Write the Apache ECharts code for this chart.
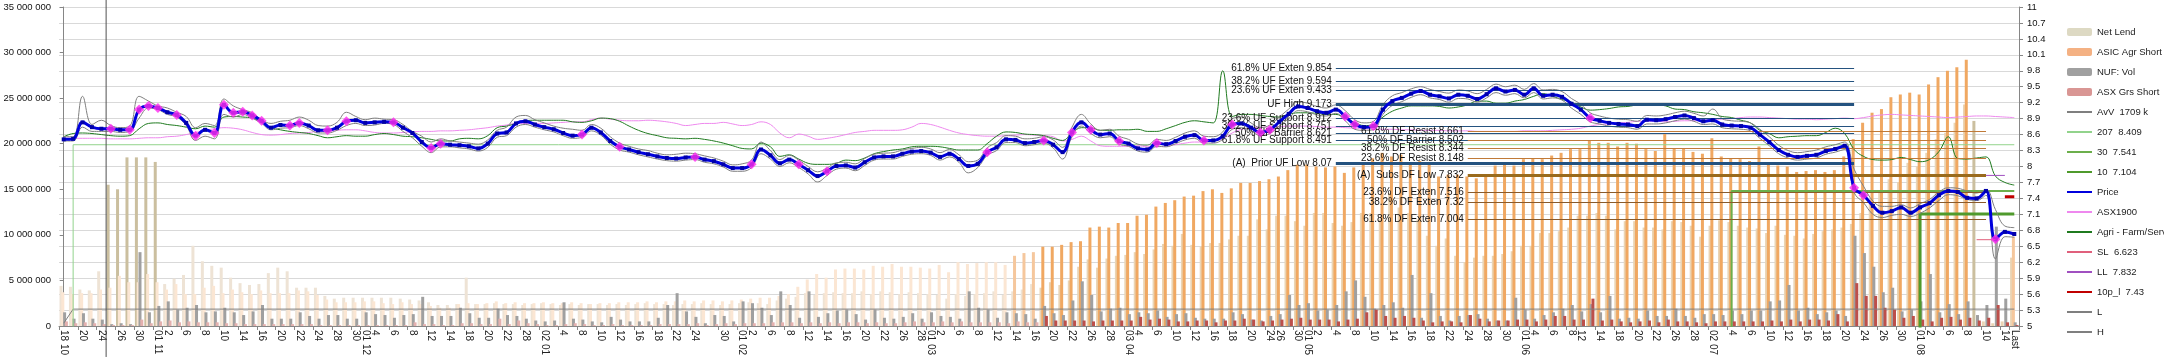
<!DOCTYPE html>
<html><head><meta charset="utf-8">
<script src="https://cdn.jsdelivr.net/npm/echarts@6/dist/echarts.min.js"></script>
<style>html,body{margin:0;padding:0;background:#fff}#c{width:2164px;height:358px}</style>
</head><body><div id="c"></div>
<script>
const FF = "'Liberation Sans',Arial,sans-serif";
const N = 208;
const labelPos = [0,2,4,6,8,10,11,13,15,17,19,21,23,25,27,29,31,32,33,35,37,39,41,43,45,47,49,51,53,55,57,59,61,63,65,67,70,72,73,75,77,79,81,83,85,87,89,91,92,93,95,97,99,101,103,105,107,109,111,113,114,116,118,120,122,124,126,128,129,131,132,133,135,137,139,141,143,145,147,149,151,153,155,156,158,160,161,163,165,167,169,171,173,175,177,179,181,183,185,187,189,191,193,195,197,198,200,202,204,206,207];
const labelText = ['18 10','20','24','26','30','01 11','2','6','8','10','14','16','20','22','24','28','30','01 12','4','6','8','12','14','18','20','22','28','02 01','4','8','10','12','16','18','22','24','30','01 02','2','6','8','12','14','16','20','22','26','28','01 03','2','6','8','12','14','16','20','22','26','28','03 04','4','6','10','12','16','18','20','24','26','30','01 05','2','4','8','10','14','16','18','22','24','28','30','01 06','4','6','8','12','14','18','20','22','26','28','02 07','4','6','10','12','16','18','20','24','26','30','01 08','2','6','8','10','14','Last'];

// Right axis series (price units)
const price = [8.51,8.52,8.83,8.74,8.71,8.71,8.69,8.69,9.07,9.14,9.10,9.02,8.97,8.82,8.58,8.69,8.63,9.16,9.01,9.03,8.96,8.86,8.73,8.78,8.77,8.82,8.77,8.68,8.68,8.73,8.85,8.87,8.82,8.83,8.84,8.83,8.73,8.63,8.46,8.35,8.43,8.41,
8.40,8.38,8.34,8.43,8.62,8.64,8.81,8.85,8.79,8.74,8.70,8.63,8.58,8.60,8.73,8.64,8.48,8.37,8.32,8.27,8.23,8.19,8.16,8.15,8.17,8.18,8.13,8.10,8.04,7.97,7.97,8.04,8.32,8.21,8.06,8.13,8.04,7.93,7.82,7.91,8.01,8.02,
7.98,8.08,8.17,8.19,8.19,8.24,8.28,8.29,8.26,8.18,8.24,8.14,8.01,8.05,8.27,8.36,8.51,8.50,8.44,8.46,8.49,8.41,8.27,8.64,8.83,8.69,8.60,8.62,8.48,8.43,8.34,8.32,8.44,8.42,8.48,8.56,8.59,8.49,8.49,8.57,8.79,
8.81,8.73,8.64,8.69,8.84,8.99,9.13,9.10,9.04,9.01,9.07,8.94,8.79,8.74,8.76,9.07,9.23,9.29,9.37,9.42,9.35,9.32,9.28,9.35,9.33,9.27,9.36,9.47,9.41,9.44,9.35,9.47,9.33,9.35,9.31,9.18,9.07,8.91,8.86,8.82,8.80,8.79,
8.76,8.88,8.87,8.89,8.93,8.96,8.91,8.85,8.87,8.79,8.77,8.76,8.73,8.60,8.46,8.31,8.22,8.18,8.20,8.22,8.29,8.33,8.39,7.60,7.46,7.26,7.13,7.16,7.23,7.13,7.23,7.31,7.46,7.54,7.52,7.41,7.40,7.54,6.63,6.77,6.73];
const high = [8.56,8.56,9.32,8.79,8.87,8.77,8.73,8.76,9.32,9.23,9.14,9.10,9.02,8.94,8.73,8.81,8.77,9.27,9.14,9.07,9.01,8.88,8.81,8.85,8.87,8.93,8.87,8.77,8.76,8.83,9.02,8.94,8.88,8.91,8.89,8.88,8.79,8.66,8.57,8.46,8.52,8.48,
8.46,8.44,8.42,8.50,8.68,8.74,8.93,8.96,8.88,8.82,8.76,8.72,8.70,8.68,8.79,8.72,8.56,8.44,8.38,8.33,8.30,8.25,8.22,8.23,8.25,8.24,8.20,8.16,8.10,8.03,8.05,8.12,8.46,8.30,8.13,8.21,8.12,8.00,7.90,7.97,8.07,8.08,
8.05,8.15,8.23,8.25,8.26,8.31,8.34,8.36,8.33,8.26,8.32,8.22,8.09,8.12,8.35,8.45,8.58,8.57,8.52,8.53,8.56,8.50,8.36,8.74,8.98,8.80,8.68,8.70,8.57,8.51,8.42,8.40,8.51,8.49,8.55,8.63,8.67,8.57,8.56,8.65,8.90,
8.93,8.82,8.73,8.78,8.93,9.08,9.22,9.19,9.13,9.10,9.16,9.05,8.88,8.82,8.85,9.16,9.33,9.39,9.46,9.50,9.45,9.41,9.38,9.44,9.42,9.37,9.45,9.55,9.50,9.53,9.45,9.56,9.44,9.45,9.41,9.28,9.17,9.01,8.95,8.91,8.89,8.88,
8.85,8.96,8.95,8.97,9.01,9.04,9.00,8.95,9.08,8.90,8.86,8.85,8.82,8.70,8.56,8.40,8.30,8.26,8.28,8.31,8.37,8.41,8.46,7.95,7.63,7.35,7.25,7.25,7.28,7.22,7.30,7.38,7.52,7.60,7.59,7.54,7.50,7.57,7.19,6.88,6.85];
const low = [8.48,8.48,8.74,8.66,8.66,8.66,8.64,8.66,8.91,9.10,9.07,8.98,8.93,8.77,8.49,8.57,8.52,8.98,8.93,8.98,8.91,8.81,8.69,8.72,8.73,8.77,8.71,8.63,8.63,8.68,8.77,8.81,8.77,8.78,8.81,8.79,8.66,8.54,8.38,8.26,8.37,8.37,
8.35,8.33,8.29,8.36,8.55,8.58,8.74,8.79,8.74,8.69,8.65,8.58,8.53,8.55,8.67,8.59,8.42,8.31,8.27,8.22,8.18,8.14,8.11,8.10,8.12,8.13,8.08,8.05,7.99,7.91,7.91,7.98,8.24,8.14,8.00,8.07,7.98,7.86,7.71,7.83,7.95,7.97,
7.92,8.02,8.12,8.14,8.14,8.19,8.23,8.24,8.21,8.12,8.18,8.08,7.88,7.98,8.21,8.30,8.45,8.45,8.39,8.41,8.44,8.35,8.14,8.56,8.76,8.62,8.54,8.56,8.42,8.38,8.29,8.27,8.38,8.37,8.43,8.50,8.53,8.44,8.44,8.51,8.70,
8.73,8.67,8.58,8.62,8.76,8.90,9.05,9.03,8.97,8.95,9.00,8.86,8.70,8.68,8.69,8.98,9.15,9.22,9.30,9.35,9.29,9.26,9.21,9.28,9.27,9.21,9.29,9.39,9.34,9.37,9.29,9.39,9.27,9.29,9.25,9.10,8.98,8.84,8.80,8.76,8.74,8.73,
8.70,8.80,8.80,8.82,8.86,8.89,8.85,8.79,8.80,8.73,8.71,8.70,8.67,8.53,8.39,8.24,8.16,8.12,8.14,8.16,8.23,8.27,8.32,7.51,7.32,7.10,7.04,7.08,7.10,7.06,7.12,7.22,7.36,7.47,7.45,7.38,7.36,7.46,6.26,6.68,6.67];
const agri = [8.56,8.62,8.63,8.62,8.60,8.58,8.57,8.58,8.71,8.81,8.82,8.79,8.77,8.74,8.71,8.76,8.74,8.93,8.94,8.93,8.91,8.83,8.73,8.69,8.66,8.64,8.62,8.58,8.54,8.56,8.58,8.57,8.57,8.60,8.62,8.60,8.57,8.56,8.54,8.51,8.48,8.48,
8.52,8.53,8.52,8.58,8.73,8.76,8.81,8.86,8.87,8.87,8.87,8.87,8.84,8.83,8.86,8.91,8.90,8.85,8.76,8.68,8.62,8.58,8.54,8.53,8.52,8.53,8.51,8.48,8.44,8.39,8.34,8.33,8.44,8.37,8.19,8.22,8.14,8.06,8.04,8.04,8.06,8.12,
8.11,8.16,8.24,8.28,8.31,8.33,8.37,8.38,8.38,8.37,8.34,8.31,8.31,8.31,8.43,8.57,8.65,8.64,8.61,8.60,8.58,8.53,8.49,8.63,8.73,8.73,8.68,8.68,8.69,8.69,8.70,8.66,8.66,8.71,8.77,8.83,8.86,8.84,8.82,9.80,8.94,
8.98,8.98,8.96,8.94,8.93,8.98,9.01,9.01,9.00,8.98,8.98,8.91,8.83,8.77,8.79,8.93,9.04,9.10,9.14,9.14,9.14,9.13,9.10,9.12,9.16,9.23,9.23,9.19,9.19,9.23,9.26,9.32,9.37,9.32,9.26,9.21,9.12,9.06,9.07,9.09,9.12,9.13,
9.16,9.18,9.16,9.14,9.08,9.07,9.03,9.01,8.98,8.94,8.92,8.87,8.82,8.68,8.62,8.54,8.56,8.57,8.58,8.58,8.64,8.72,8.62,8.32,8.19,8.13,8.12,8.13,8.17,8.13,8.09,8.13,8.28,8.56,8.15,8.14,8.16,8.18,7.82,7.70,7.65];
const asx1900 = [8.53,8.53,8.53,8.53,8.53,8.52,8.52,8.52,8.53,8.54,8.54,8.56,8.57,8.60,8.64,8.68,8.71,8.73,8.72,8.69,8.64,8.60,8.59,8.60,8.62,8.63,8.64,8.66,8.66,8.68,8.69,8.69,8.67,8.64,8.63,8.63,8.64,8.65,8.66,8.66,8.67,8.67,
8.68,8.69,8.71,8.73,8.76,8.78,8.81,8.81,8.81,8.81,8.82,8.83,8.84,8.84,8.88,8.91,8.89,8.87,8.86,8.86,8.87,8.86,8.84,8.81,8.77,8.79,8.81,8.81,8.83,8.80,8.77,8.79,8.84,8.79,8.63,8.54,8.61,8.57,8.51,8.53,8.56,8.60,
8.64,8.66,8.68,8.68,8.68,8.69,8.74,8.81,8.79,8.74,8.68,8.63,8.60,8.58,8.57,8.57,8.58,8.59,8.60,8.59,8.58,8.56,8.48,8.51,8.57,8.48,8.39,8.38,8.38,8.38,8.39,8.37,8.37,8.39,8.41,8.44,8.46,8.46,8.48,8.52,8.63,
8.70,8.72,8.74,8.74,8.75,8.76,8.76,8.76,8.75,8.74,8.74,8.73,8.72,8.71,8.70,8.70,8.70,8.69,8.69,8.68,8.68,8.68,8.67,8.67,8.67,8.66,8.66,8.66,8.66,8.66,8.67,8.67,8.67,8.68,8.69,8.70,8.72,8.76,8.79,8.80,8.82,8.83,
8.85,8.85,8.85,8.84,8.85,8.86,8.86,8.87,8.88,8.89,8.90,8.92,8.93,8.93,8.92,8.91,8.90,8.89,8.89,8.88,8.89,8.90,8.91,8.90,8.92,8.95,8.97,8.98,8.97,8.96,8.95,8.94,8.93,8.92,8.93,8.94,8.95,8.95,8.94,8.93,8.92];
const signalIdx = [5,7,8,9,10,12,14,16,17,18,19,20,21,24,25,28,30,35,39,40,55,59,67,73,78,81,98,104,107,109,112,116,121,124,127,128,136,137,139,162,190,191,205];

// Left axis series (millions)
const netLend = [4.4,4.3,4.0,3.9,6.0,15.5,15.0,18.5,18.5,18.5,18.0,4.6,5.2,5.6,8.8,7.1,6.6,6.4,5.3,4.7,4.5,4.6,5.8,6.4,6.0,4.2,4.2,4.2,3.3,3.0,3.1,3.1,3.1,3.1,3.1,3.1,3.0,2.9,2.8,2.6,2.3,2.3,
2.4,5.3,2.4,2.4,2.5,2.4,2.4,2.3,2.4,2.5,2.4,2.3,2.4,2.3,2.4,2.4,2.3,2.4,2.3,2.4,2.5,2.4,2.4,2.3,2.4,2.4,2.5,2.4,2.3,2.4,2.5,2.6,2.5,2.4,2.8,3.0,3.2,3.6,3.4,3.6,3.7,3.6,
3.6,3.8,3.5,3.8,3.7,3.5,3.7,3.6,3.5,3.4,3.0,3.5,3.3,3.5,3.6,3.8,3.4,3.8,4.0,4.6,4.2,4.8,4.5,5.0,6.5,7.3,6.4,7.4,7.7,7.8,8.1,7.9,8.4,9.0,8.8,10.1,8.9,8.7,9.1,9.1,9.5,
9.9,9.9,11.7,10.6,12.1,12.1,11.5,11.0,12.4,12.4,11.3,11.0,11.4,12.4,12.4,11.7,14.6,13.0,12.4,11.7,9.9,8.8,9.6,7.7,7.0,7.5,7.7,7.7,7.9,8.2,8.8,8.8,10.2,10.2,10.4,10.8,12.1,12.1,12.4,12.1,10.6,11.5,
11.5,10.8,10.8,10.6,11.5,11.4,11.0,9.8,11.0,11.6,11.4,11.0,10.8,10.7,10.2,11.0,10.0,9.9,9.6,10.1,10.4,10.6,10.8,11.2,12.4,13.9,14.8,16.1,15.8,17.9,17.5,19.0,20.5,21.2,22.3,24.3,22.5,0.5,0.3,0.5,7.5];
const asicShort = [3.7,3.5,3.6,3.6,4.0,4.2,5.5,4.8,4.8,5.7,4.8,4.0,4.6,3.5,3.5,4.2,4.4,3.6,4.0,3.7,3.5,3.9,3.6,3.6,3.6,3.9,3.8,3.4,2.9,2.6,2.6,2.6,2.7,2.7,2.5,2.4,2.6,2.4,2.4,2.2,2.0,2.0,
2.4,2.5,2.4,2.5,2.7,2.5,2.6,2.5,2.5,2.6,2.5,2.5,2.6,2.5,2.4,2.5,2.5,2.6,2.6,2.6,2.7,2.6,2.7,2.7,2.8,2.7,2.8,2.8,2.7,2.8,2.9,3.0,3.1,3.1,3.3,3.5,4.3,5.1,5.7,5.3,6.2,6.3,
6.3,6.2,6.6,6.5,6.8,6.5,6.5,6.4,6.3,6.7,5.9,7.0,6.8,6.9,7.0,7.0,6.7,7.7,8.0,8.1,8.7,8.7,8.9,9.2,9.3,10.8,10.9,10.8,11.3,11.3,12.1,12.2,13.1,13.5,13.8,14.2,14.3,14.8,15.0,14.6,15.1,
15.7,15.7,15.9,16.1,16.4,17.1,17.7,17.7,17.5,17.4,17.5,16.8,17.4,17.9,18.4,19.0,18.6,18.8,17.9,18.1,18.0,16.4,16.6,16.6,16.4,16.2,16.4,17.6,17.7,17.6,18.3,18.4,18.3,18.7,19.0,19.4,19.4,20.3,20.1,20.1,19.7,
20.1,20.0,19.4,19.2,21.1,19.5,19.5,19.1,18.9,20.6,18.6,18.4,18.3,18.1,19.7,17.7,17.6,17.5,16.9,17.0,17.1,16.9,17.1,18.6,20.5,22.3,23.4,23.8,25.1,25.4,25.6,25.4,26.5,27.3,28.0,28.4,29.2,0,0,0,0,9.8];
const nufVol = [1.5,0.8,1.4,0.8,0.7,0.2,0.3,0.2,8.1,1.5,2.2,2.7,1.8,2.0,2.3,1.5,1.6,2.0,1.5,1.2,1.6,2.3,0.8,0.8,0.8,1.5,1.1,0.8,1.2,1.2,0.8,0.8,1.5,1.3,1.2,0.9,1.2,1.3,3.2,1.1,1.1,1.1,
2.0,1.4,0.9,0.9,1.9,1.2,1.1,0.8,0.6,0.5,0.6,2.6,0.8,0.7,0.5,0.4,1.0,0.7,0.5,0.5,0.5,0.9,2.3,3.6,1.6,1.0,0.3,1.2,1.1,0.5,2.7,2.5,2.0,1.2,3.8,2.3,0.9,3.8,1.0,1.4,1.7,1.8,
1.3,0.7,1.8,0.9,0.8,1.0,1.4,0.8,1.5,1.1,1.0,0.8,3.8,2.0,1.8,0.9,1.5,1.4,1.3,0.8,2.2,1.4,1.2,2.8,4.9,3.4,1.6,1.9,2.0,1.3,1.5,1.4,1.7,1.0,1.3,1.4,0.9,0.8,0.8,0.8,1.5,
1.3,0.7,0.6,1.1,1.3,3.4,2.3,2.5,1.7,1.8,2.3,3.8,5.0,3.2,1.9,2.3,2.6,2.0,5.6,0.9,3.6,1.1,0.6,1.1,1.2,1.3,0.8,0.6,0.6,3.1,1.8,0.8,1.2,1.5,1.9,2.3,1.6,2.4,1.5,3.3,0.8,0.9,
0.8,1.7,1.1,1.1,1.9,1.1,0.9,1.3,1.3,1.2,1.7,1.3,1.7,1.7,2.7,2.8,4.5,1.7,2.0,1.3,1.5,1.7,1.1,9.9,8.0,6.5,3.7,4.2,1.6,1.8,2.7,5.7,1.5,2.4,1.3,2.7,1.2,2.3,10.9,3.0,0.4];
const asxShort = [0.5,0.3,0.4,0.3,0.2,0.1,0.1,0.1,0.7,0.3,0.5,0.6,0.4,0.5,0.4,0.4,0.4,0.3,0.3,0.2,0.2,0.2,0.2,0.2,0.2,0.2,0.2,0.1,0.1,0.1,0.1,0.1,0.1,0.1,0.1,0.1,0.1,0.4,0.2,0.2,0.1,0.1,
0.3,0.3,0.2,0.2,0.8,0.2,0.6,0.3,0.2,0.1,0.1,0.2,0.3,0.2,0.1,0.1,0.2,0.1,0.1,0.1,0.1,0.2,0.2,0.2,0.2,0.3,0.1,0.2,0.3,0.2,0.3,0.3,0.3,0.4,0.4,0.4,0.3,0.4,0.3,0.4,0.3,0.4,
0.4,0.3,0.4,0.3,0.3,0.4,0.5,0.4,0.4,0.5,0.4,0.5,0.4,0.4,0.4,0.4,0.3,0.5,0.4,0.4,1.1,0.6,0.6,0.6,0.6,0.5,0.6,0.6,0.6,0.6,1.0,0.7,0.8,0.7,0.5,0.5,0.6,0.6,0.4,0.6,0.6,
0.8,0.7,0.5,0.6,0.7,0.8,0.9,0.7,0.7,0.7,0.5,0.7,0.8,1.5,1.8,1.1,0.9,1.1,0.9,0.6,0.4,0.5,0.5,0.4,1.2,0.8,0.5,0.6,0.6,0.7,0.7,0.5,0.7,1.1,1.1,0.7,0.7,3.0,0.6,0.7,0.5,0.4,
0.5,0.6,0.4,0.7,0.5,0.5,0.4,0.3,0.5,0.5,0.5,0.5,0.5,0.5,0.6,0.5,0.7,0.5,0.7,0.7,0.6,1.3,0.5,4.7,3.3,3.3,2.0,1.8,0.9,1.1,0.7,0.5,0.9,1.0,0.7,0.9,0.6,0.9,2.3,0.4,0.1];

// step / level lines: [categoryIndex, value]
const avvLine = [[0,0.3],[1,1.85],[207,1.85]];
const ma207Line = [[1,0],[1,8.409],[207,8.409]];
const ma30Line = [[177,0],[177,7.541],[207,7.541]];
const ma10Line = [[197,0],[197,7.104],[207,7.104]];
const slLine = [[203,6.623],[205,6.623]];
const llLine = [[204,7.832],[206,7.832]];
const p10Line = [[206,7.43],[207,7.43]];
const markerX = 4.5;

// Fibonacci levels
const ufLevels = [9.854,9.594,9.433,9.173,8.912,8.751,8.621,8.491,8.07];
const ufNames = ['61.8% UF Exten','38.2% UF Exten','23.6% UF Exten','UF High','23.6% UF Support','38.2% UF Support','50% UF Barrier','61.8% UF Support','(A)  Prior UF Low'];
const ufRange = [135,190];
const dfLevels = [8.661,8.502,8.344,8.148,7.832,7.516,7.32,7.004];
const dfNames = ['61.8% DF Resist','50% DF Barrier','38.2% DF Resist','23.6% DF Resist','(A)  Subs DF Low','23.6% DF Exten','38.2% DF Exten','61.8% DF Exten'];
const dfRange = [149,204];

const catLabel = new Array(N).fill('');
labelPos.forEach((p,k)=>{catLabel[p]=labelText[k];});
const categories = catLabel.map((t,i)=>'d'+i);

const fibLabel = (txt)=>({show:true,position:'start',formatter:txt,color:'#111',fontSize:10,fontFamily:FF,distance:4});
const markData = [];
ufLevels.forEach((v,k)=>{
  const thick = ufNames[k].indexOf('High')>=0 || ufNames[k].indexOf('Low')>=0;
  markData.push([{coord:[ufRange[0],v],lineStyle:{color:'#24527f',width:thick?3:1.2,type:'solid'},label:fibLabel(ufNames[k]+' '+v)},{coord:[ufRange[1],v]}]);
});
dfLevels.forEach((v,k)=>{
  const low = dfNames[k].indexOf('Low')>=0;
  const ext = dfNames[k].indexOf('Exten')>=0;
  markData.push([{coord:[dfRange[0],v],lineStyle:{color: low?'#9a6a1c':(ext?'#8a5a2a':'#c07a38'),width:low?3:1.2,type:'solid'},label:fibLabel(dfNames[k]+' '+v)},{coord:[dfRange[1],v]}]);
});

const barW = 3, barGap = '-40%';
const chart = echarts.init(document.getElementById('c'), null, {renderer:'canvas'});
const lineS = (name, data, color, width, extra) => Object.assign({
  name, type:'line', yAxisIndex:1, data, symbol:'none', color,
  lineStyle:{color, width}, itemStyle:{color}, z:3, silent:true, animation:false
}, extra||{});

const barNames = ['Net Lend','ASIC Agr Short','NUF: Vol','ASX Grs Short'];
const lineNames = ['AvV  1709 k','207  8.409','30  7.541','10  7.104','Price','ASX1900','Agri - Farm/Serv','SL  6.623','LL  7.832','10p_l  7.43','L','H'];

chart.setOption({
  animation:false,
  textStyle:{fontFamily:FF},
  grid:{left:59,right:145,top:7,bottom:31,containLabel:false},
  legend:{
    orient:'vertical', left:2061, top:20, itemWidth:25, itemHeight:8, itemGap:6,
    textStyle:{fontSize:9.5,fontFamily:FF,color:'#222',lineHeight:14},
    data: barNames.map(n=>({name:n})).concat(lineNames.map(n=>({name:n,itemStyle:{opacity:0}})))
  },
  xAxis:[{
    type:'category', data:categories, boundaryGap:true,
    axisLine:{lineStyle:{color:'#868686'}},
    axisTick:{show:true,length:4,interval:(i)=>catLabel[i]!=='',lineStyle:{color:'#868686'}},
    axisLabel:{interval:0,rotate:-90,fontSize:10,color:'#222',margin:4,fontFamily:FF,formatter:(v,i)=>catLabel[i]}
  },{
    type:'value', min:-0.5, max:N-0.5, show:false, position:'top'
  }],
  yAxis:[{
    type:'value', position:'left', min:0, max:35, interval:5,
    axisLine:{show:true,lineStyle:{color:'#868686'}},
    axisTick:{show:true,length:4,lineStyle:{color:'#868686'}},
    splitLine:{show:false},
    axisLabel:{fontSize:9.5,color:'#111',fontFamily:FF,margin:8,
      formatter:(v)=>String(Math.round(v*1e6)).replace(/\B(?=(\d{3})+(?!\d))/g,' ')}
  },{
    type:'value', position:'right', min:5, max:11, interval:0.3,
    axisLine:{show:true,lineStyle:{color:'#868686'}},
    axisTick:{show:true,length:4,lineStyle:{color:'#868686'}},
    splitLine:{show:true,lineStyle:{color:'#d9d9d9',width:1}},
    axisLabel:{fontSize:9.5,color:'#111',fontFamily:FF,margin:8,formatter:(v)=>String(+v.toFixed(1))}
  }],
  series:[
    {name:'Net Lend',type:'bar',yAxisIndex:0,barWidth:barW,barGap:barGap,color:'#ddd9c3',itemStyle:{color:'#ddd9c3'},silent:true,
      data:netLend.map((v,i)=>({value:v,itemStyle:{color:((i>=5&&i<=10)||i===203)?'#cbbf9f':(i>=104?'#ead4b4':'#eee3d5')}}))},
    {name:'ASIC Agr Short',type:'bar',yAxisIndex:0,barWidth:barW,barGap:barGap,color:'#f4b183',itemStyle:{color:'#f4b183'},silent:true,
      data:asicShort.map((v,i)=>({value:v,itemStyle:{color:i<101?'#fbe6d3':(i<104||i===207?'#f5c79d':'#f0a862')}}))},
    {name:'NUF: Vol',type:'bar',yAxisIndex:0,barWidth:barW,barGap:barGap,color:'#a6a6a6',itemStyle:{color:'#a0a0a0'},silent:true,data:nufVol},
    {name:'ASX Grs Short',type:'bar',yAxisIndex:0,barWidth:barW,barGap:barGap,color:'#d99694',itemStyle:{color:'#d99694'},silent:true,
      data:asxShort.map((v,i)=>({value:v,itemStyle:{color:i<104?'#e4b0ae':'#bd4f4a'}}))},
    lineS('AvV  1709 k', avvLine, '#7f7f7f', 1, {yAxisIndex:0}),
    lineS('207  8.409', ma207Line, '#92d38c', 1),
    lineS('30  7.541', ma30Line, '#6caf4c', 2),
    lineS('10  7.104', ma10Line, '#4f9a2c', 3),
    lineS('ASX1900', asx1900, '#ee88ee', 1, {smooth:0.4}),
    lineS('Agri - Farm/Serv', agri, '#1f7a1f', 1, {smooth:0.4}),
    lineS('L', low, '#7f7f7f', 1, {smooth:0.4}),
    lineS('H', high, '#7f7f7f', 1, {smooth:0.4}),
    lineS('Price', price, '#0000dd', 3, {smooth:0.4,symbol:'rect',symbolSize:4,showSymbol:true,showAllSymbol:true,itemStyle:{color:'#0000aa'},z:5,
      markLine:{silent:true,symbol:['none','none'],animation:false,data:markData}}),
    {name:'signal',type:'scatter',yAxisIndex:1,symbol:'diamond',symbolSize:10,itemStyle:{color:'#ff2cf0'},z:6,silent:true,
      data:signalIdx.map(i=>[i,price[i]])},
    lineS('SL  6.623', slLine, '#e0607c', 1, {z:6}),
    lineS('LL  7.832', llLine, '#a050c0', 1, {z:6}),
    lineS('10p_l  7.43', p10Line, '#c00000', 3, {z:6}),
    {name:'marker',type:'line',xAxisIndex:1,yAxisIndex:0,data:[[markerX,-3.4],[markerX,35.77]],symbol:'none',clip:false,
      lineStyle:{color:'#505050',width:1},silent:true,z:4}
  ]
});
</script>
</body></html>
